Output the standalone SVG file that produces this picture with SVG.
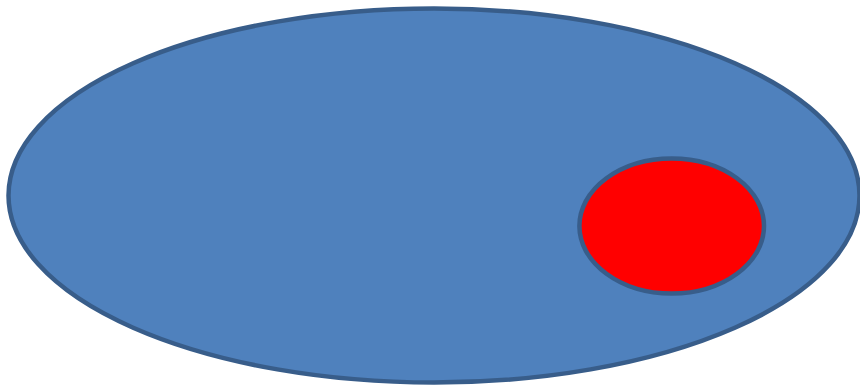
<svg xmlns="http://www.w3.org/2000/svg" width="860" height="385" viewBox="0 0 860 385">
<style>
.shape{stroke:#385D8A;stroke-width:4.5}
</style>
<rect width="860" height="385" fill="#FFFFFF"/>
<g id="outer">
<ellipse class="shape" cx="434" cy="195.5" rx="425.5" ry="187" fill="#4F81BD"/>
</g>
<g id="inner">
<ellipse class="shape" cx="671.7" cy="226" rx="92.3" ry="67.5" fill="#FF0000"/>
</g>
<g id="connectors"/>
</svg>
